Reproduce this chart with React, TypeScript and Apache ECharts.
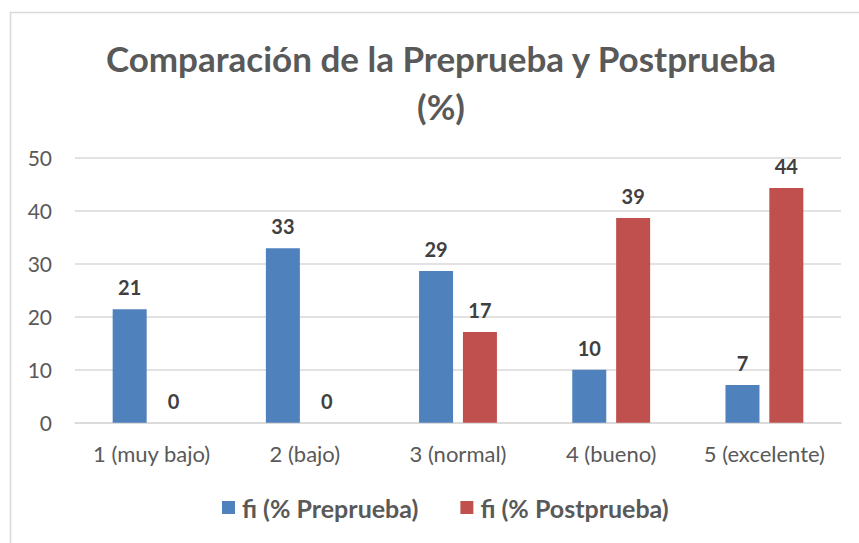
import React, { useEffect, useRef } from "react";
import * as echarts from "echarts";

const categories = ["1 (muy bajo)", "2 (bajo)", "3 (normal)", "4 (bueno)", "5 (excelente)"];
const preprueba = [21.4, 32.9, 28.6, 10.0, 7.1];
const postprueba = [0, 0, 17.1, 38.6, 44.3];
const seriesNames = ["fi (% Preprueba)", "fi (% Postprueba)"];
const titleText = "Comparación de la Preprueba y Postprueba\n(%)";

const FONT = "Lato, 'Open Sans', sans-serif";

export default function App() {
  const ref = useRef<HTMLDivElement>(null);
  useEffect(() => {
    if (!ref.current) return;
    const chart = echarts.init(ref.current, null, { renderer: "svg" });
    const label = {
      show: true,
      position: "top",
      distance: 12,
      fontFamily: FONT,
      fontWeight: "bold",
      fontSize: 20,
      color: "#404040",
      formatter: (p: any) => String(Math.round(p.value)),
    };
    chart.setOption({
      animation: false,
      backgroundColor: "#ffffff",
      title: {
        text: titleText,
        left: 436,
        textAlign: "center",
        top: 29,
        textStyle: {
          fontFamily: FONT,
          fontWeight: "bold",
          fontSize: 35,
          color: "#595959",
          lineHeight: 48,
        },
      },
      graphic: [
        {
          type: "rect",
          shape: { x: 10.5, y: 12.5, width: 900, height: 600 },
          style: { fill: "none", stroke: "#d9d9d9", lineWidth: 1.5 },
          silent: true,
        },
      ],
      legend: {
        data: seriesNames,
        top: 490,
        left: 217,
        itemWidth: 13,
        itemHeight: 13,
        itemGap: 42,
        icon: "rect",
        textStyle: {
          fontFamily: FONT,
          fontWeight: "bold",
          fontSize: 25,
          color: "#595959",
          padding: [0, 0, 0, 2],
        },
      },
      grid: { left: 75, right: 18, top: 157.7, bottom: 120.3 },
      xAxis: {
        type: "category",
        data: categories,
        axisLine: { lineStyle: { color: "#d9d9d9", width: 1.5 } },
        axisTick: { show: false },
        axisLabel: {
          interval: 0,
          fontFamily: FONT,
          fontSize: 22,
          color: "#595959",
          margin: 20,
        },
      },
      yAxis: {
        type: "value",
        min: 0,
        max: 50,
        interval: 10,
        axisLine: { show: false },
        axisTick: { show: false },
        splitLine: { lineStyle: { color: "#d9d9d9", width: 1.5 } },
        axisLabel: {
          fontFamily: FONT,
          fontSize: 21,
          color: "#595959",
          margin: 23,
        },
      },
      series: [
        {
          name: seriesNames[0],
          type: "bar",
          data: preprueba,
          barWidth: 34,
          barGap: "29%",
          itemStyle: { color: "#4f81bd" },
          label,
        },
        {
          name: seriesNames[1],
          type: "bar",
          data: postprueba,
          barWidth: 34,
          itemStyle: { color: "#c0504d" },
          label,
        },
      ],
    });
    return () => chart.dispose();
  }, []);
  return (
    <div
      ref={ref}
      style={{ position: "absolute", left: 0, top: 0, width: 859, height: 543 }}
    />
  );
}
